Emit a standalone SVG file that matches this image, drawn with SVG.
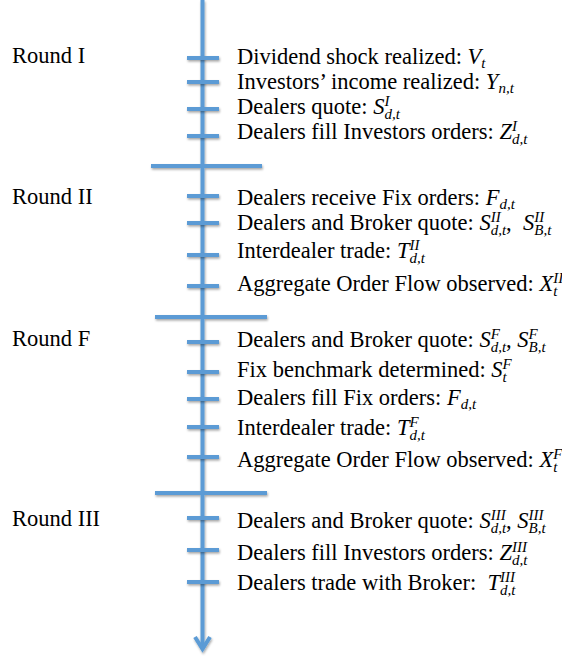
<svg xmlns="http://www.w3.org/2000/svg" width="562" height="657" viewBox="0 0 562 657">
<style>
  text { font-family: "Liberation Serif", "Times New Roman", serif; font-size: 22.5px; fill: #000000; white-space: pre; }
  .m { font-style: italic; }
  .s { font-style: italic; font-size: 15px; }
  .ln { stroke: #5B9BD5; stroke-width: 4; fill: none; }
</style>
<defs>
  <filter id="sh" filterUnits="userSpaceOnUse" x="0" y="0" width="562" height="657">
    <feDropShadow dx="0.8" dy="1.6" stdDeviation="0.9" flood-color="#000000" flood-opacity="0.35"/>
  </filter>
</defs>
<rect width="562" height="657" fill="#ffffff"/>

<g id="connectors" filter="url(#sh)">
  <line class="ln" x1="202.5" y1="0" x2="202.5" y2="647"/>
  <path class="ln" d="M195 637 L202.5 649 L210 637" stroke-linejoin="miter"/>
  <line class="ln" x1="151" y1="166" x2="262" y2="166"/>
  <line class="ln" x1="155" y1="317" x2="267" y2="317"/>
  <line class="ln" x1="155" y1="493" x2="267" y2="493"/>
</g>

<g id="round-labels">
  <text id="round-1" x="12" y="63">Round I</text>
  <text id="round-2" x="12" y="204">Round II</text>
  <text id="round-f" x="12" y="346">Round F</text>
  <text id="round-3" x="12" y="526">Round III</text>
</g>

<g id="ticks" filter="url(#sh)">
  <line class="ln" x1="187" y1="58" x2="219" y2="58"/>
  <line class="ln" x1="187" y1="82" x2="219" y2="82"/>
  <line class="ln" x1="187" y1="109" x2="219" y2="109"/>
  <line class="ln" x1="187" y1="136" x2="219" y2="136"/>
  <line class="ln" x1="187" y1="196" x2="219" y2="196"/>
  <line class="ln" x1="187" y1="223" x2="219" y2="223"/>
  <line class="ln" x1="187" y1="255" x2="219" y2="255"/>
  <line class="ln" x1="187" y1="286" x2="219" y2="286"/>
  <line class="ln" x1="187" y1="342" x2="219" y2="342"/>
  <line class="ln" x1="187" y1="372" x2="219" y2="372"/>
  <line class="ln" x1="187" y1="399" x2="219" y2="399"/>
  <line class="ln" x1="187" y1="427" x2="219" y2="427"/>
  <line class="ln" x1="187" y1="457" x2="219" y2="457"/>
  <line class="ln" x1="187" y1="518" x2="219" y2="518"/>
  <line class="ln" x1="187" y1="550" x2="219" y2="550"/>
  <line class="ln" x1="187" y1="582" x2="219" y2="582"/>
</g>

<g id="e1"><text x="237" y="64">Dividend shock realized: <tspan class="m">V</tspan><tspan class="s" dy="4">t</tspan></text></g>
<g id="e2"><text x="237" y="89">Investors’ income realized: <tspan class="m">Y</tspan><tspan class="s" dy="4">n,t</tspan></text></g>
<g id="e3"><text x="237" y="114">Dealers quote: <tspan class="m">S</tspan><tspan class="s" dy="-8">I</tspan><tspan class="s" dx="-5" dy="13">d,t</tspan></text></g>
<g id="e4"><text x="237" y="139">Dealers fill Investors orders: <tspan class="m">Z</tspan><tspan class="s" dy="-8">I</tspan><tspan class="s" dx="-5" dy="13">d,t</tspan></text></g>

<g id="e5"><text x="237" y="205">Dealers receive Fix orders: <tspan class="m">F</tspan><tspan class="s" dy="4">d,t</tspan></text></g>
<g id="e6"><text x="237" y="230">Dealers and Broker quote: <tspan class="m">S</tspan><tspan class="s" dy="-8">II</tspan><tspan class="s" dx="-10" dy="13">d,t</tspan><tspan dy="-5">,  </tspan><tspan class="m">S</tspan><tspan class="s" dy="-8">II</tspan><tspan class="s" dx="-10" dy="13">B,t</tspan></text></g>
<g id="e7"><text x="237" y="258">Interdealer trade: <tspan class="m">T</tspan><tspan class="s" dy="-8">II</tspan><tspan class="s" dx="-10" dy="13">d,t</tspan></text></g>
<g id="e8"><text x="237" y="291">Aggregate Order Flow observed: <tspan class="m">X</tspan><tspan class="s" dy="-8">II</tspan><tspan class="s" dx="-10" dy="13">t</tspan></text></g>

<g id="e9"><text x="237" y="347">Dealers and Broker quote: <tspan class="m">S</tspan><tspan class="s" dy="-8">F</tspan><tspan class="s" dx="-9.2" dy="13">d,t</tspan><tspan dy="-5">, </tspan><tspan class="m">S</tspan><tspan class="s" dy="-8">F</tspan><tspan class="s" dx="-9.2" dy="13">B,t</tspan></text></g>
<g id="e10"><text x="237" y="377">Fix benchmark determined: <tspan class="m">S</tspan><tspan class="s" dy="-8">F</tspan><tspan class="s" dx="-9.2" dy="13">t</tspan></text></g>
<g id="e11"><text x="237" y="405">Dealers fill Fix orders: <tspan class="m">F</tspan><tspan class="s" dy="4">d,t</tspan></text></g>
<g id="e12"><text x="237" y="435">Interdealer trade: <tspan class="m">T</tspan><tspan class="s" dy="-8">F</tspan><tspan class="s" dx="-9.2" dy="13">d,t</tspan></text></g>
<g id="e13"><text x="237" y="467">Aggregate Order Flow observed: <tspan class="m">X</tspan><tspan class="s" dy="-8">F</tspan><tspan class="s" dx="-9.2" dy="13">t</tspan></text></g>

<g id="e14"><text x="237" y="528">Dealers and Broker quote: <tspan class="m">S</tspan><tspan class="s" dy="-8">III</tspan><tspan class="s" dx="-15" dy="13">d,t</tspan><tspan dy="-5">, </tspan><tspan class="m">S</tspan><tspan class="s" dy="-8">III</tspan><tspan class="s" dx="-15" dy="13">B,t</tspan></text></g>
<g id="e15"><text x="237" y="560">Dealers fill Investors orders: <tspan class="m">Z</tspan><tspan class="s" dy="-8">III</tspan><tspan class="s" dx="-15" dy="13">d,t</tspan></text></g>
<g id="e16"><text x="237" y="590">Dealers trade with Broker:  <tspan class="m">T</tspan><tspan class="s" dy="-8">III</tspan><tspan class="s" dx="-15" dy="13">d,t</tspan></text></g>
</svg>
